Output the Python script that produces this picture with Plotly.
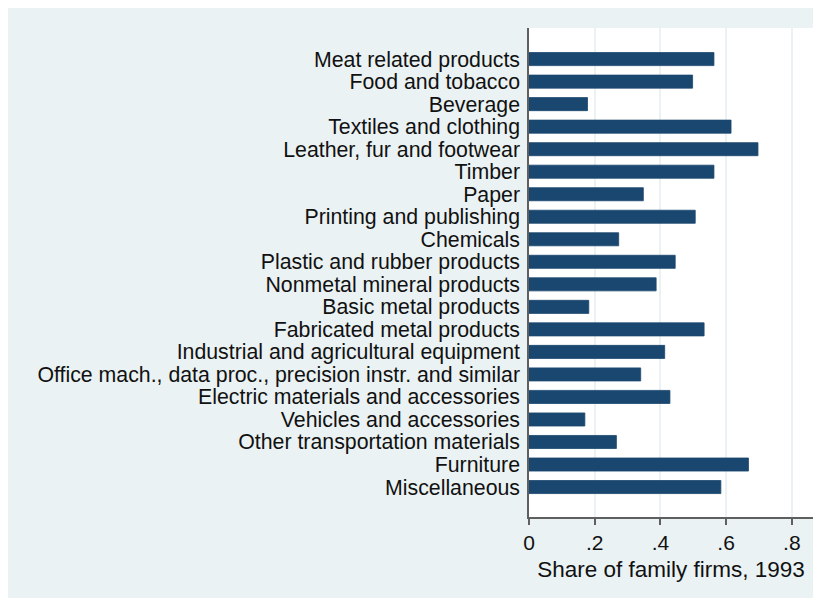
import plotly.graph_objects as go

categories = [
    "Meat related products",
    "Food and tobacco",
    "Beverage",
    "Textiles and clothing",
    "Leather, fur and footwear",
    "Timber",
    "Paper",
    "Printing and publishing",
    "Chemicals",
    "Plastic and rubber products",
    "Nonmetal mineral products",
    "Basic metal products",
    "Fabricated metal products",
    "Industrial and agricultural equipment",
    "Office mach., data proc., precision instr. and similar",
    "Electric materials and accessories",
    "Vehicles and accessories",
    "Other transportation materials",
    "Furniture",
    "Miscellaneous",
]
share_1993 = [0.563, 0.498, 0.178, 0.615, 0.697, 0.563, 0.348, 0.506, 0.273, 0.445,
              0.387, 0.182, 0.533, 0.413, 0.340, 0.429, 0.170, 0.266, 0.668, 0.584]
x_tickvals = [0, 0.2, 0.4, 0.6, 0.8]
x_ticktext = ["0", ".2", ".4", ".6", ".8"]

BG = "#EAF2F3"
BAR = "#1A476F"
AXIS = "#5f5f5f"
FONT = "Liberation Sans, Arial, sans-serif"

# page body has an 8px margin; figure coordinates = screen - 8
OFF = 8
W, H = 821 - OFF, 601 - OFF
L, R, T, B = 529 - OFF, 813 - OFF, 28 - OFF, 517 - OFF

def px_x(p):
    return (p - L) / (R - L)

def px_y(p):
    return (B - p) / (B - T)

fig = go.Figure()
fig.add_trace(go.Bar(
    x=share_1993,
    y=categories,
    orientation="h",
    marker=dict(color=BAR, line=dict(color=BAR, width=0.8)),
    hoverinfo="x+y",
))

fig.update_layout(
    width=W, height=H,
    margin=dict(l=L, r=W - R, t=T, b=H - B, pad=0),
    paper_bgcolor="white",
    plot_bgcolor="white",
    bargap=0.42,
    showlegend=False,
    font=dict(family=FONT, size=20, color="#111111"),
    shapes=[
        dict(type="rect", xref="paper", yref="paper", layer="below",
             x0=px_x(0), x1=px_x(W), y0=px_y(598 - OFF), y1=px_y(0),
             fillcolor=BG, line=dict(width=0)),
        dict(type="rect", xref="paper", yref="paper", layer="below",
             x0=0, x1=1, y0=0, y1=1,
             fillcolor="white", line=dict(width=0)),
    ],
)

fig.update_xaxes(
    range=[0, 0.8645],
    tickvals=x_tickvals,
    ticktext=x_ticktext,
    showgrid=True, gridcolor=BG, gridwidth=1.5,
    zeroline=False,
    showline=True, linecolor=AXIS, linewidth=1.5,
    ticks="outside", ticklen=6, tickwidth=1.5, tickcolor=AXIS,
    tickfont=dict(size=21, family=FONT, color="#111111"),
    title=dict(text="Share of family firms, 1993",
               font=dict(size=22.5, family=FONT, color="#111111"), standoff=8),
)
fig.update_yaxes(
    type="category",
    categoryorder="array", categoryarray=categories,
    tickmode="array", tickvals=categories, ticktext=categories,
    range=[19 + 1.33, -1.38],
    showgrid=False,
    zeroline=False,
    showline=True, linecolor=AXIS, linewidth=1.5,
    ticks="",
    ticklabelstandoff=3,
    tickfont=dict(size=21.3, family=FONT, color="#111111"),
)

fig.write_html("out.html")
